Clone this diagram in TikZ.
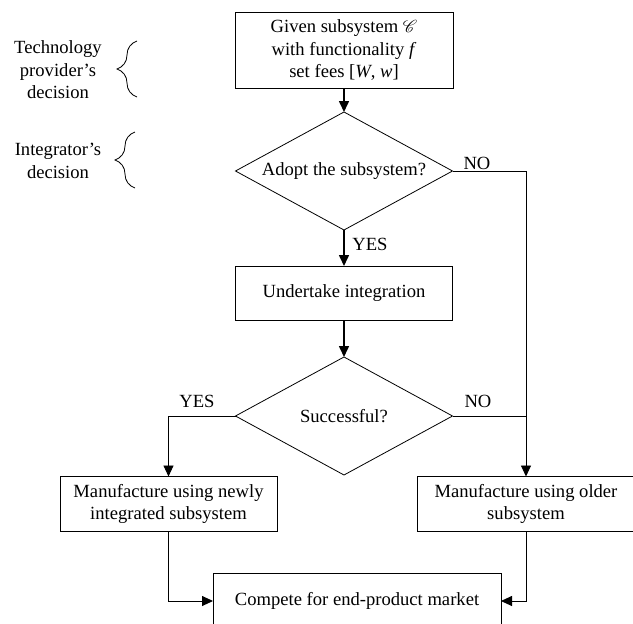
\documentclass[tikz,border=0pt]{standalone}
\usepackage{fontspec}
\setmainfont{Liberation Serif}
\usepackage{mathrsfs}
\usepackage{tikz}
\usetikzlibrary{positioning, arrows.meta, shapes.geometric, decorations.pathreplacing}

\begin{document}
\begin{tikzpicture}[
  x=1pt, y=-1pt,
  >={Triangle[length=11pt, width=10pt]},
  font=\fontsize{18.6}{22.5}\selectfont,
  box/.style={draw, line width=0.8pt, minimum width=217pt, minimum height=55pt,
              align=center, inner sep=2pt, outer sep=0pt},
  decision/.style={draw, diamond, line width=0.8pt, aspect=1.85, minimum width=217pt,
                   minimum height=118pt, inner sep=0pt, outer sep=0pt},
  ann/.style={align=center, inner sep=0pt},
  arr/.style={->, line width=0.9pt},
  mainarr/.style={->, line width=1.6pt},
  curly/.style={decorate, decoration={brace, amplitude=20pt}, line width=0.8pt}
]
\useasboundingbox (0,0) rectangle (633,624);
% main column
\node[box, minimum width=218pt, minimum height=76pt] (given) at (344,50)
     {Given subsystem $\mathscr{C}$\\with functionality \textit{f}\\set fees [\textit{W}, \textit{w}]};
\node[decision, below=24pt of given] (adopt) {Adopt the subsystem?};
\node[box, minimum height=54pt, below=36pt of adopt] (integ) {Undertake integration};
\node[decision, below=37pt of integ] (succ) {Successful?};
\draw[mainarr] (given) -- (adopt);
\draw[mainarr] (adopt) -- (integ);
\draw[mainarr] (integ) -- (succ);
% outcomes
\node[box] (newsys) at (168.5,504) {Manufacture using newly\\integrated subsystem};
\node[box] (oldsys) at (526,504) {Manufacture using older\\subsystem};
\node[box, minimum width=288pt, minimum height=56pt] (compete) at (357,601)
     {Compete for end-product market};
\draw[arr] (adopt.east) -| (oldsys.north);
\draw[line width=0.9pt] (succ.east) -- (succ.east -| oldsys.north);
\draw[arr] (succ.west) -| (newsys.north);
\draw[arr] (newsys.south) |- (compete.west);
\draw[arr] (oldsys.south) |- (compete.east);
\node[ann] (yes1) at (370,244) {YES};
\node[ann] (no1) at (477,163) {NO};
\node[ann] (yes2) at (197,401) {YES};
\node[ann] (no2) at (478,401) {NO};
% decision makers
\node[ann] (techtxt) at (58,70) {Technology\\provider's\\decision};
\node[ann] (intgtxt) at (58,161) {Integrator's\\decision};
\draw[curly] (137,97) -- (137,41);
\draw[curly] (135,188) -- (135,132);
\end{tikzpicture}
\end{document}
